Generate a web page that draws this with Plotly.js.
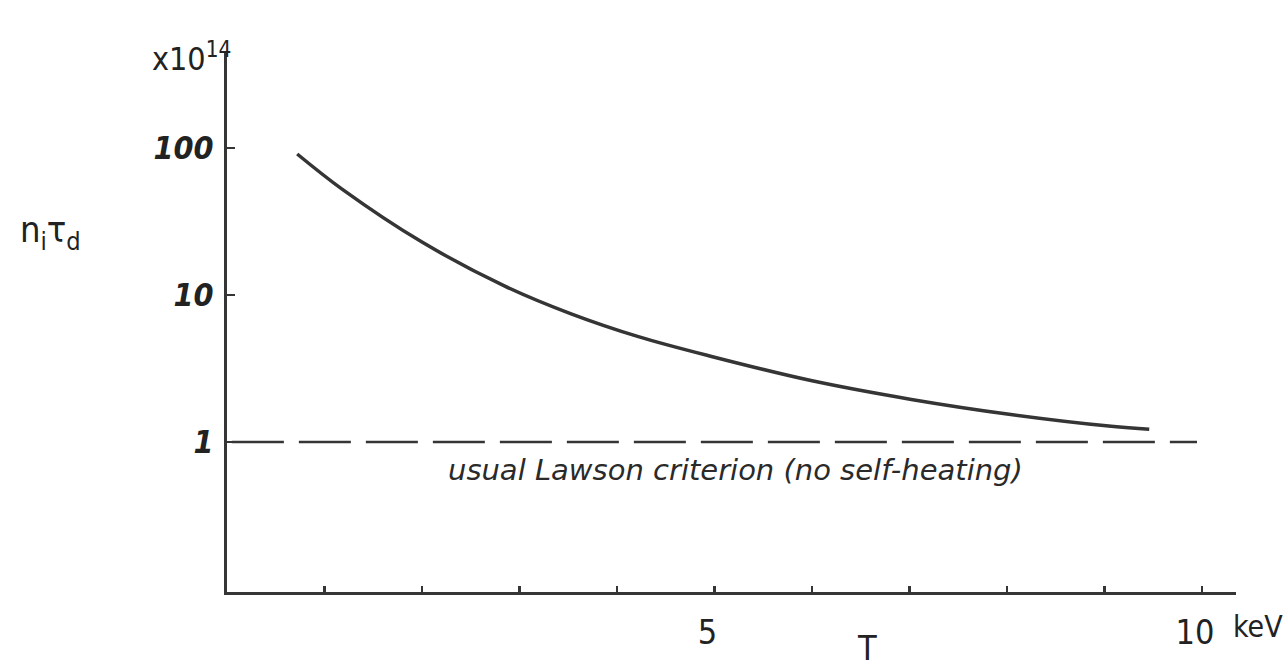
<!DOCTYPE html>
<html>
<head>
<meta charset="utf-8">
<script src="https://cdn.plot.ly/plotly-3.0.1.min.js"></script>
<style>html,body{margin:0;padding:0;background:#fff;}#chart{width:1287px;height:671px;}</style>
</head>
<body>
<div id="chart"></div>
<script>
// Data
const temperatureKeV = [0.72, 1.18, 2.0, 2.85, 3.53, 4.22, 4.97, 5.99, 7.02, 8.04, 9.07, 9.46];
const niTauD = [91, 52.5, 22.9, 11.5, 7.45, 5.21, 3.82, 2.62, 1.95, 1.54, 1.28, 1.22];
const lawsonT = [0.05, 9.95];
const lawsonValue = [1, 1];
const xTickVals = [5, 10];
const xTickText = ["5", "10"];
const yTickVals = [1, 10, 100];
const yTickText = ["1", "10", "100"];

const ink = "#353535";
const hand = "'DejaVu Sans Condensed', 'DejaVu Sans', sans-serif";

const traces = [
  {
    x: temperatureKeV, y: niTauD, type: "scatter", mode: "lines",
    line: {color: ink, width: 3.5, shape: "spline", smoothing: 1.0},
    hoverinfo: "skip", showlegend: false
  },
  {
    x: lawsonT, y: lawsonValue, type: "scatter", mode: "lines",
    line: {color: ink, width: 2.5, dash: "52px,15px"},
    hoverinfo: "skip", showlegend: false
  }
];

const layout = {
  width: 1287, height: 671,
  margin: {l: 227, r: 51, t: 52, b: 79},
  paper_bgcolor: "#fff", plot_bgcolor: "#fff",
  showlegend: false,
  xaxis: {
    range: [0, 10.35], showgrid: false, zeroline: false,
    showline: true, linecolor: ink, linewidth: 3,
    ticks: "inside", ticklen: 6, tickwidth: 2.5, tickcolor: ink,
    tickvals: xTickVals, ticktext: xTickText,
    minor: {dtick: 1, tick0: 0, ticks: "inside", ticklen: 6, tickwidth: 2.5, tickcolor: ink, showgrid: false},
    tickfont: {family: hand, size: 34, color: "#222"},
    ticklabelstandoff: 8,
    ticklabelshift: -7
  },
  yaxis: {
    type: "log", range: [-1.02, 2.653], showgrid: false, zeroline: false,
    showline: true, linecolor: ink, linewidth: 3,
    ticks: "inside", ticklen: 8, tickwidth: 2.5, tickcolor: ink,
    tickvals: yTickVals, ticktext: yTickText,
    tickfont: {family: hand, size: 32, color: "#222", style: "italic", weight: 700},
    ticklabelstandoff: 4
  },
  annotations: [
    {xref: "paper", yref: "paper", x: -0.035, y: 0.99, xanchor: "center", yanchor: "middle",
     text: "x10<sup>14</sup>", showarrow: false, font: {family: hand, size: 32, color: "#222"}},
    {xref: "paper", yref: "paper", x: -0.175, y: 0.665, xanchor: "center", yanchor: "middle",
     text: "n<sub>i</sub>τ<sub>d</sub>", showarrow: false, font: {family: hand, size: 36, color: "#222"}},
    {xref: "paper", yref: "paper", x: 0.634, y: -0.104, xanchor: "center", yanchor: "middle",
     text: "T", showarrow: false, font: {family: hand, size: 34, color: "#222"}},
    {xref: "paper", yref: "paper", x: 1.022, y: -0.064, xanchor: "center", yanchor: "middle",
     text: "keV", showarrow: false, font: {family: hand, size: 30, color: "#222"}},
    {xref: "paper", yref: "paper", x: 0.504, y: 0.226, xanchor: "center", yanchor: "middle",
     text: "usual Lawson criterion (no self-heating)", showarrow: false,
     font: {family: "'DejaVu Sans', sans-serif", size: 29, color: "#2a2a2a", style: "italic"}}
  ]
};

Plotly.newPlot("chart", traces, layout, {displayModeBar: false, staticPlot: true});
</script>
</body>
</html>
